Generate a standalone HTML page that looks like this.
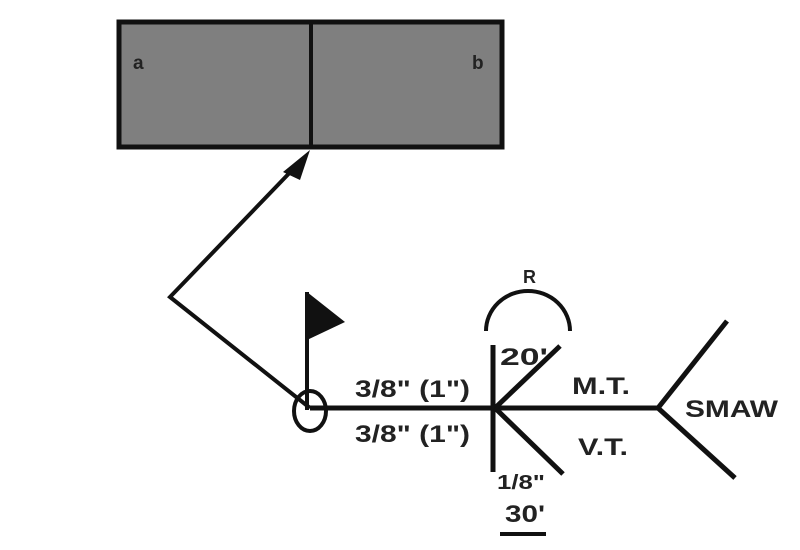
<!DOCTYPE html>
<html><head><style>html,body{margin:0;padding:0;background:#fff;width:800px;height:550px;overflow:hidden}</style></head>
<body>
<svg width="800" height="550" viewBox="0 0 800 550" xmlns="http://www.w3.org/2000/svg" font-family="Liberation Sans, sans-serif" font-weight="bold" fill="#222">
<rect x="119" y="22" width="383" height="125" fill="#7f7f7f" stroke="#111" stroke-width="5"/>
<line x1="311" y1="22" x2="311" y2="147" stroke="#111" stroke-width="4"/>
<text x="133" y="69" font-size="19" fill="#222">a</text>
<text x="472" y="69" font-size="19" fill="#222">b</text>
<polyline points="310,408 170,297 300,162" fill="none" stroke="#111" stroke-width="4"/>
<polygon points="310,150 283,172 300,180" fill="#111"/>
<ellipse cx="310" cy="411" rx="16" ry="20" fill="none" stroke="#111" stroke-width="4"/>
<line x1="307" y1="292" x2="307" y2="410" stroke="#111" stroke-width="4"/>
<polygon points="307,292 345,322 307,340" fill="#111"/>
<line x1="310" y1="408" x2="660" y2="408" stroke="#111" stroke-width="5"/>
<line x1="493" y1="345" x2="493" y2="472" stroke="#111" stroke-width="5"/>
<line x1="495" y1="408" x2="560" y2="346" stroke="#111" stroke-width="5"/>
<line x1="495" y1="408" x2="563" y2="474" stroke="#111" stroke-width="5"/>
<path d="M486,331 A42,40 0 0 1 570,331" fill="none" stroke="#111" stroke-width="4"/>
<line x1="658" y1="408" x2="727" y2="321" stroke="#111" stroke-width="5"/>
<line x1="658" y1="408" x2="735" y2="478" stroke="#111" stroke-width="5"/>
<line x1="500" y1="534" x2="546" y2="534" stroke="#111" stroke-width="4"/>
<g font-size="24">
<text x="523" y="283" font-size="18">R</text>
<text x="355" y="397" textLength="115" lengthAdjust="spacingAndGlyphs">3/8" (1")</text>
<text x="355" y="442" textLength="115" lengthAdjust="spacingAndGlyphs">3/8" (1")</text>
<text x="500" y="365" textLength="48" lengthAdjust="spacingAndGlyphs">20'</text>
<text x="572" y="394" textLength="58" lengthAdjust="spacingAndGlyphs">M.T.</text>
<text x="578" y="455" textLength="50" lengthAdjust="spacingAndGlyphs">V.T.</text>
<text x="685" y="417" textLength="93" lengthAdjust="spacingAndGlyphs">SMAW</text>
<text x="497" y="489" font-size="20" textLength="48" lengthAdjust="spacingAndGlyphs">1/8"</text>
<text x="505" y="522" textLength="40" lengthAdjust="spacingAndGlyphs">30'</text>
</g>
</svg>
</body></html>
